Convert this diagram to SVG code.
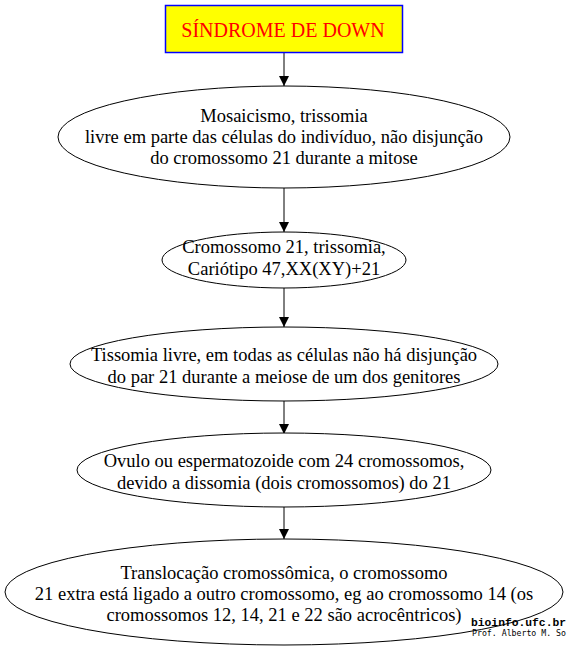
<svg xmlns="http://www.w3.org/2000/svg" width="568" height="650" viewBox="0 0 568 650">
<defs>
<marker id="arr" markerWidth="10" markerHeight="10" refX="10" refY="5" orient="auto" markerUnits="userSpaceOnUse">
<path d="M0,0 L10,5 L0,10 Z" fill="#000"/>
</marker>
</defs>
<style>
.n ellipse{fill:#fff;stroke:#000;stroke-width:1}
.t{font-family:'Liberation Serif','Times New Roman',serif;font-size:18.5px;fill:#000;text-anchor:middle}
.e{stroke:#000;stroke-width:1;fill:none;marker-end:url(#arr)}
</style>
<rect width="568" height="650" fill="#fff"/>
<g id="watermark">
<text x="471" y="626" font-family="'Liberation Mono','DejaVu Sans Mono',monospace" font-size="11.5" font-weight="bold" fill="#000" textLength="95" lengthAdjust="spacingAndGlyphs">bioinfo.ufc.br</text>
<text x="472" y="636" font-family="'DejaVu Sans Mono','Liberation Mono',monospace" font-size="8" fill="#000" textLength="94" lengthAdjust="spacingAndGlyphs">Prof. Alberto M. So</text>
</g>
<g id="edges">
<line class="e" x1="284" y1="53" x2="284" y2="86"/>
<line class="e" x1="284" y1="188" x2="284" y2="232"/>
<line class="e" x1="284" y1="288" x2="284" y2="327"/>
<line class="e" x1="284" y1="401" x2="284" y2="434"/>
<line class="e" x1="284" y1="507" x2="284" y2="539"/>
</g>
<g id="n0">
<rect x="165.5" y="5.5" width="237" height="47" fill="#ffff00" stroke="#0000ff" stroke-width="1.5"/>
<text x="283" y="37" font-family="'Liberation Serif','Times New Roman',serif" font-size="20" fill="#ff0000" text-anchor="middle">SÍNDROME DE DOWN</text>
</g>
<g id="n1" class="n">
<ellipse cx="284" cy="137" rx="226" ry="51"/>
<text class="t" x="284" y="122">Mosaicismo, trissomia</text>
<text class="t" x="284" y="143">livre em parte das células do indivíduo, não disjunção</text>
<text class="t" x="284" y="164">do cromossomo 21 durante a mitose</text>
</g>
<g id="n2" class="n">
<ellipse cx="284" cy="260" rx="122" ry="28"/>
<text class="t" x="284" y="253">Cromossomo 21, trissomia,</text>
<text class="t" x="284" y="275">Cariótipo 47,XX(XY)+21</text>
</g>
<g id="n3" class="n">
<ellipse cx="284" cy="364" rx="214" ry="37"/>
<text class="t" x="284" y="361">Tissomia livre, em todas as células não há disjunção</text>
<text class="t" x="284" y="383">do par 21 durante a meiose de um dos genitores</text>
</g>
<g id="n4" class="n">
<ellipse cx="284" cy="470" rx="207" ry="37"/>
<text class="t" x="284" y="467">Ovulo ou espermatozoide com 24 cromossomos,</text>
<text class="t" x="284" y="489">devido a dissomia (dois cromossomos) do 21</text>
</g>
<g id="n5">
<ellipse cx="284" cy="592" rx="279" ry="53" fill="none" stroke="#000"/>
<text class="t" x="284" y="579">Translocação cromossômica, o cromossomo</text>
<text class="t" x="284" y="600">21 extra está ligado a outro cromossomo, eg ao cromossomo 14 (os</text>
<text class="t" x="284" y="621">cromossomos 12, 14, 21 e 22 são acrocêntricos)</text>
</g>
</svg>
